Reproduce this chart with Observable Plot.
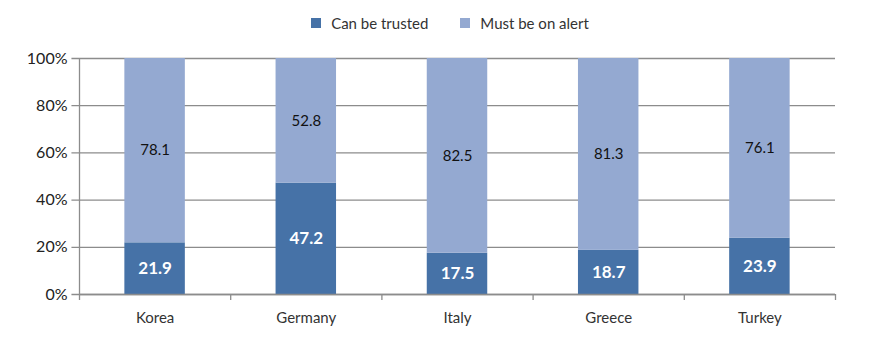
<!DOCTYPE html>
<html><head><meta charset="utf-8">
<script src="https://cdn.jsdelivr.net/npm/d3@7"></script>
<script src="https://cdn.jsdelivr.net/npm/@observablehq/plot@0.6"></script>
<style>
body{margin:0;background:#fff;font-family:Lato,"Open Sans",sans-serif;}
#legend{height:40px;display:flex;justify-content:center;align-items:center;font-size:15px;color:#333;padding-left:20px;padding-top:5px;box-sizing:border-box;}
.item{display:flex;align-items:center;margin:0 16px;}
.sw{width:10px;height:10px;margin-right:10px;}
</style></head>
<body>
<div id="legend"></div>
<div id="chart"></div>
<script>
const countries = ["Korea","Germany","Italy","Greece","Turkey"];
const trusted = [21.9,47.2,17.5,18.7,23.9];
const alert = [78.1,52.8,82.5,81.3,76.1];
const series = ["Can be trusted","Must be on alert"];
const colors = ["#4672a7","#94a9d1"];
const yTicks = [0,20,40,60,80,100];

const leg = document.getElementById("legend");
series.forEach((s,i)=>{
  const d=document.createElement("div");d.className="item";
  d.innerHTML=`<span class="sw" style="background:${colors[i]}"></span><span>${s}</span>`;
  leg.appendChild(d);
});

const data = [];
countries.forEach((c,i)=>{
  data.push({i, c, s:series[0], y1:0, y2:trusted[i], v:trusted[i]});
  data.push({i, c, s:series[1], y1:trusted[i], y2:100, v:alert[i]});
});
const idx = countries.map((c,i)=>i);
const bounds = [...idx.map(i=>i-0.5), countries.length-0.5];
const half = 0.2;

const chart = Plot.plot({
  width:880, height:304,
  marginLeft:79, marginRight:45, marginTop:18, marginBottom:50,
  style:{fontFamily:"Lato, 'Open Sans', sans-serif", fontSize:"15px", color:"#222"},
  x:{type:"linear", domain:[-0.5, countries.length-0.5], axis:null, label:null},
  y:{domain:[0,100], axis:null, label:null},
  marks:[
    Plot.gridY(yTicks,{stroke:"#8c8c8c", strokeOpacity:1, strokeWidth:1.3, x1:-0.55, x2:countries.length-0.5}),
    Plot.rect(data,{x1:d=>d.i-half, x2:d=>d.i+half, y1:"y1", y2:"y2", fill:d=>d.s===series[0]?colors[0]:colors[1]}),
    Plot.ruleX([-0.5],{stroke:"#8c8c8c", strokeWidth:1.3}),
    Plot.ruleY([0],{stroke:"#8c8c8c", strokeWidth:1.3}),
    Plot.axisY(yTicks,{tickSize:0, tickPadding:12, tickFormat:d=>d+"%", fontSize:16, fill:"#222", label:null}),
    Plot.axisX(bounds,{tickSize:6, tickFormat:()=>"", stroke:"#8c8c8c", strokeWidth:1.3, label:null}),
    Plot.axisX(idx,{tickSize:0, tickPadding:18, tickFormat:i=>countries[i], fontSize:15, fill:"#333", label:null}),
    Plot.text(data.filter(d=>d.s===series[0]),{x:"i", y:d=>(d.y1+d.y2)/2, text:d=>d.v.toFixed(1), fill:"white", fontWeight:"bold", fontSize:17}),
    Plot.text(data.filter(d=>d.s===series[1]),{x:"i", y:d=>(d.y1+d.y2)/2, text:d=>d.v.toFixed(1), fill:"#111", fontSize:15})
  ]
});
document.getElementById("chart").appendChild(chart);
</script>
</body></html>
